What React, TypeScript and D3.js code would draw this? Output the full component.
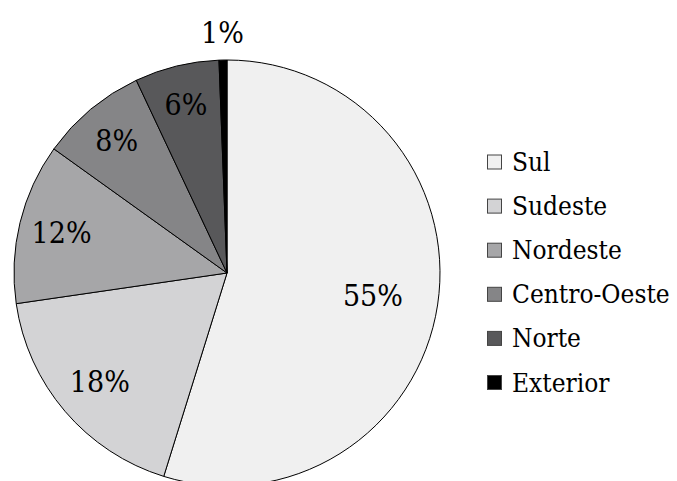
import React from "react";
import * as d3 from "d3";

const categories = ["Sul", "Sudeste", "Nordeste", "Centro-Oeste", "Norte", "Exterior"];
const values = [54.8, 17.9, 12.2, 8.1, 6.4, 0.6];
const labels = ["55%", "18%", "12%", "8%", "6%", "1%"];
const colors = ["#f0f0f0", "#d3d3d5", "#a6a6a8", "#858587", "#58585a", "#000000"];

const W = 677;
const H = 481;
const cx = 227;
const cy = 273;
const R = 213;
const FONT = "'DejaVu Serif Condensed', 'DejaVu Serif', serif";

export default function App() {
  const total = d3.sum(values);
  const pie = d3.pie<number>().sort(null).value((d) => d)(values);
  const arc = d3.arc<d3.PieArcDatum<number>>().innerRadius(0).outerRadius(R);

  const legendY = d3.scalePoint<string>().domain(categories).range([162, 382.5]);

  return (
    <svg
      width={W}
      height={H}
      style={{ position: "absolute", left: 0, top: 0, background: "#fff" }}
    >
      <g transform={`translate(${cx},${cy})`}>
        {pie.map((p, i) => (
          <path key={i} d={arc(p) || ""} fill={colors[i]} stroke="#000" strokeWidth={1} />
        ))}
        {pie.map((p, i) => {
          const share = values[i] / total;
          const mid = (p.startAngle + p.endAngle) / 2;
          const outside = share < 0.02;
          const rl = outside ? R + 28 : R * (0.83 - 0.25 * share);
          const x = Math.sin(mid) * rl;
          const y = -Math.cos(mid) * rl;
          return (
            <text
              key={"l" + i}
              x={x}
              y={y}
              textAnchor="middle"
              dominantBaseline="central"
              fontFamily={FONT}
              fontStretch="condensed"
              fontSize={30}
              fill="#000"
            >
              {labels[i]}
            </text>
          );
        })}
      </g>
      <g>
        {categories.map((c, i) => {
          const y = legendY(c) as number;
          return (
            <g key={c}>
              <rect x={487.5} y={y - 7} width={14} height={14} fill={colors[i]} stroke="#444" strokeWidth={1} />
              <text x={512} y={y + 9} fontFamily={FONT} fontStretch="condensed" fontSize={26} fill="#000">
                {c}
              </text>
            </g>
          );
        })}
      </g>
    </svg>
  );
}
